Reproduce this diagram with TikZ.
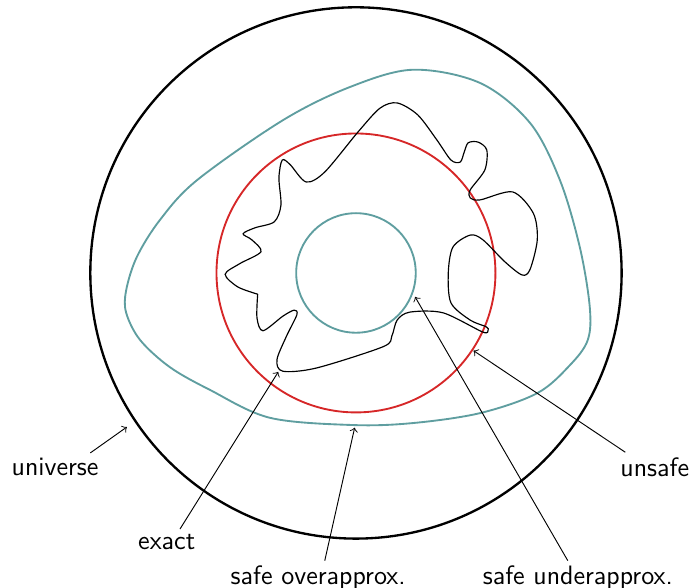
\documentclass[tikz,border=0pt]{standalone}
\usepackage{xcolor}
\usepackage{tikz}
\usetikzlibrary{arrows,positioning,calc}

\definecolor{safecol}{RGB}{95,158,160}
\definecolor{exactcol}{RGB}{214,39,40}

\begin{document}
\begin{tikzpicture}[
    font=\sffamily\fontsize{11.4}{13.7}\selectfont,
    universe/.style={draw=black, line width=1pt},
    safe/.style={draw=safecol, thick},
    reach/.style={draw=exactcol, thick},
    exactset/.style={draw=black, line width=0.5pt},
    label/.style={inner sep=2pt},
    arrow/.style={->, line width=0.4pt}
]
\useasboundingbox (-5.36,-4.73) rectangle (5.12,4.11);

\draw[universe] (0,0) circle (4);
\draw[reach] (0,0) circle (2.1);
\draw[safe] (0,0) circle (0.9);

% safe overapproximation
\draw[safe] plot[smooth cycle, tension=0.55] coordinates {
    (0.86,3.06) (1.87,2.86) (2.62,2.26) (3.07,1.40) (3.37,0.39)
    (3.52,-0.51) (3.49,-1.01) (3.22,-1.39) (2.73,-1.81) (1.87,-2.11)
    (0.86,-2.26) (-0.05,-2.29) (-1.30,-2.18) (-2.20,-1.76) (-2.80,-1.42)
    (-3.25,-1.01) (-3.46,-0.60) (-3.46,-0.26) (-3.30,0.24) (-2.95,0.80)
    (-2.39,1.40) (-1.10,2.30) (-0.09,2.80)};

% exact reachable set
\draw[exactset] plot[smooth, tension=0.5] coordinates {
    (-1.48,-0.32) (-1.78,-0.21) (-1.97,-0.02) (-1.75,0.14) (-1.43,0.32)
    (-1.57,0.50) (-1.70,0.59) (-1.52,0.68) (-1.23,0.77) (-1.13,1.02)
    (-1.16,1.43) (-1.11,1.70) (-0.99,1.63) (-0.75,1.37) (-0.47,1.52)
    (0.02,2.11) (0.36,2.48) (0.62,2.56) (0.93,2.38) (1.22,2.00)
    (1.43,1.70) (1.57,1.67) (1.63,1.82) (1.69,1.96) (1.84,1.97)
    (1.97,1.85) (1.94,1.55) (1.72,1.25) (1.72,1.13) (1.87,1.10)
    (2.36,1.22) (2.67,0.90) (2.73,0.50) (2.62,0.05) (2.50,-0.03)
    (2.24,0.17) (1.91,0.50) (1.72,0.57) (1.46,0.39) (1.39,0.00)
    (1.43,-0.45) (1.72,-0.71) (1.96,-0.81) (1.99,-0.86) (1.91,-0.89)
    (1.31,-0.60) (0.81,-0.59) (0.62,-0.71) (0.54,-0.95) (0.41,-1.11)
    (-0.59,-1.43) (-1.10,-1.48) (-1.19,-1.31) (-1.05,-0.96) (-0.89,-0.63)
    (-0.93,-0.56) (-1.10,-0.65) (-1.40,-0.87) (-1.49,-0.68) (-1.48,-0.32)};

\coordinate (universehead) at (-3.45,-2.32);
\coordinate (exacthead) at (-1.17,-1.49);
\coordinate (overhead) at (-0.02,-2.33);
\coordinate (underhead) at (0.89,-0.36);
\coordinate (unsafehead) at (1.77,-1.17);

\node[label] (universe) at (-4.53,-2.92) {universe};
\node[label] (exact) at (-2.85,-4.05) {exact};
\node[label] (over) at (-0.57,-4.59) {safe overapprox.};
\node[label] (under) at (3.34,-4.59) {safe underapprox.};
\node[label] (unsafe) at (4.50,-2.92) {unsafe};

\draw[arrow] ([xshift=-2mm]universe.north east) -- (universehead);
\draw[arrow] ([xshift=2mm]exact.north) -- (exacthead);
\draw[arrow] ([xshift=1mm]over.north) -- (overhead);
\draw[arrow] ([xshift=-1.5mm]under.north) -- (underhead);
\draw[arrow] ([xshift=1.5mm]unsafe.north west) -- (unsafehead);

\end{tikzpicture}
\end{document}
